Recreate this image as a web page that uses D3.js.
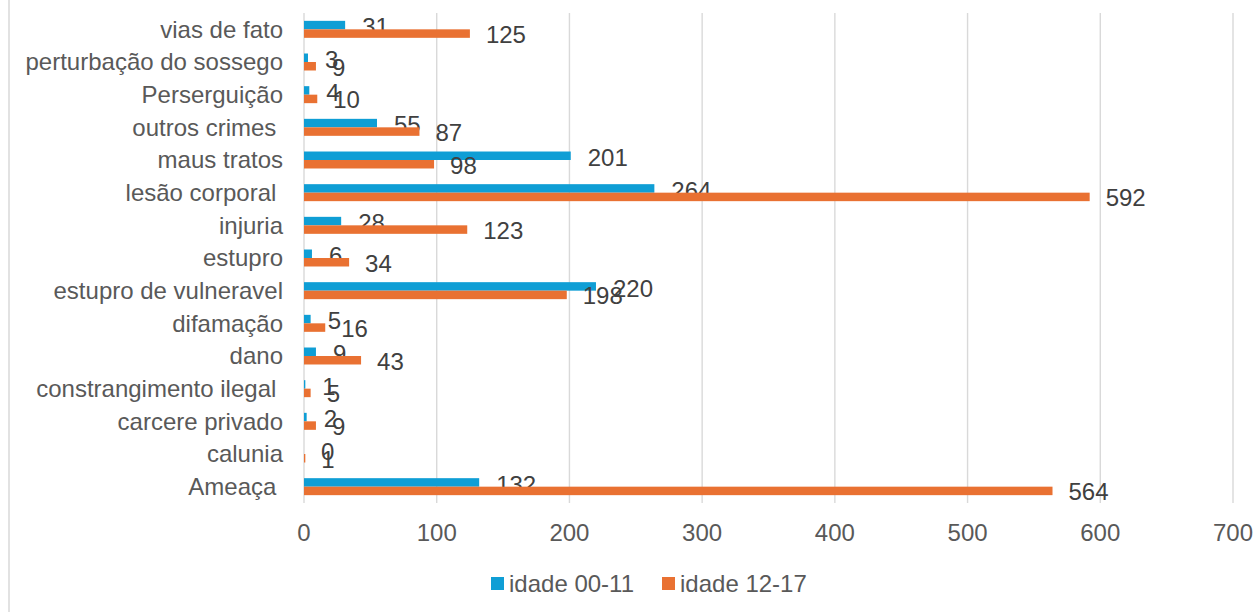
<!DOCTYPE html>
<html>
<head>
<meta charset="utf-8">
<script src="https://cdn.jsdelivr.net/npm/d3@7"></script>
<style>
  body { margin: 0; background: #fff; }
  svg text { font-family: "Liberation Sans", Arial, sans-serif; white-space: pre; }
</style>
</head>
<body>
<svg id="chart"></svg>
<script>
const w = 1253,
      h = 612;
const fs = 24;

// data, top row first
const categories = ['vias de fato', 'perturbação do sossego', 'Perserguição', 'outros crimes ', 'maus tratos',
                    'lesão corporal ', 'injuria', 'estupro', 'estupro de vulneravel', 'difamação', 'dano',
                    'constrangimento ilegal ', 'carcere privado', 'calunia', 'Ameaça '];
const idade00_11 = [31, 3, 4, 55, 201, 264, 28, 6, 220, 5, 9, 1, 2, 0, 132];
const idade12_17 = [125, 9, 10, 87, 98, 592, 123, 34, 198, 16, 43, 5, 9, 1, 564];
const seriesNames = ['idade 00-11', 'idade 12-17'];
const colors = ['#0F9ED5', '#E97132'];
const xTicks = [0, 100, 200, 300, 400, 500, 600, 700];

const svg = d3.select('#chart').attr('width', w).attr('height', h);

const x = d3.scaleLinear().domain([0, 700]).range([304, 1233]);
const y = d3.scaleBand().domain(categories).range([13, 503]).paddingInner(0.48).paddingOuter(0.24);
const sub = d3.scaleBand().domain([0, 1]).range([0, y.bandwidth()]);

// left border of the chart frame
svg.append('line').attr('x1', 9).attr('x2', 9).attr('y1', 0).attr('y2', h)
   .attr('stroke', '#d9d9d9').attr('stroke-width', 1.5);

// gridlines
svg.append('g').selectAll('line')
   .data(xTicks)
   .enter().append('line')
   .attr('x1', d => x(d)).attr('x2', d => x(d))
   .attr('y1', 13).attr('y2', 503)
   .attr('stroke', '#d9d9d9').attr('stroke-width', 1.4);

// x tick labels
svg.append('g').selectAll('text')
   .data(xTicks)
   .enter().append('text')
   .attr('x', d => x(d)).attr('y', 541)
   .attr('text-anchor', 'middle')
   .attr('font-size', fs).attr('fill', '#595959')
   .text(d => d);

// category labels
svg.append('g').selectAll('text')
   .data(categories)
   .enter().append('text')
   .attr('x', 283).attr('y', d => y(d) + y.bandwidth() / 2)
   .attr('dy', '0.35em')
   .attr('text-anchor', 'end')
   .attr('font-size', fs).attr('fill', '#595959')
   .text(d => d);

const series = [idade00_11, idade12_17];
const labelGap = [17, 16];
const labelShift = [2, 1];

series.forEach((vals, s) => {
    const rows = vals.map((v, i) => ({cat: categories[i], v: v}));
    svg.append('g').selectAll('rect')
       .data(rows)
       .enter().append('rect')
       .attr('x', x(0))
       .attr('y', d => y(d.cat) + sub(s))
       .attr('width', d => x(d.v) - x(0))
       .attr('height', sub.bandwidth())
       .attr('fill', colors[s]);

    svg.append('g').selectAll('text')
       .data(rows)
       .enter().append('text')
       .attr('x', d => x(d.v) + labelGap[s])
       .attr('y', d => y(d.cat) + sub(s) + sub.bandwidth() / 2 + labelShift[s])
       .attr('dy', '0.35em')
       .attr('font-size', fs).attr('fill', '#404040')
       .text(d => d.v);
});

// legend
const legendX = [491, 662];
const lg = svg.append('g').selectAll('g')
   .data(seriesNames)
   .enter().append('g')
   .attr('transform', (d, i) => `translate(${legendX[i]},577)`);
lg.append('rect').attr('width', 13).attr('height', 13).attr('fill', (d, i) => colors[i]);
lg.append('text').attr('x', 18).attr('y', 6.5).attr('dy', '0.35em')
  .attr('font-size', fs).attr('fill', '#595959')
  .text(d => d);
</script>
</body>
</html>
